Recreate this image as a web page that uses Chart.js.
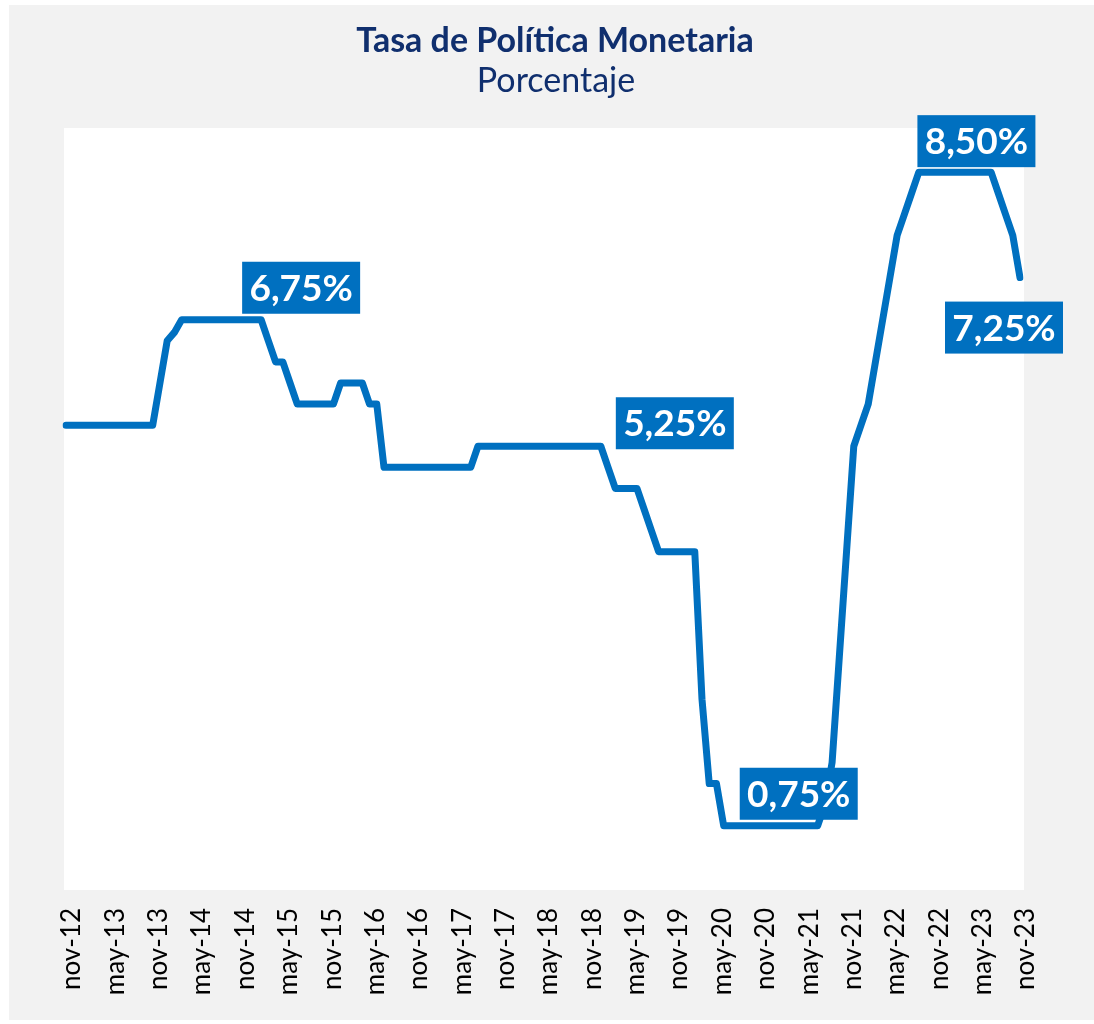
<!DOCTYPE html>
<html>
<head>
<meta charset="utf-8">
<script src="https://cdn.jsdelivr.net/npm/chart.js@4"></script>
<style>
  body { margin: 0; background: #fff; }
  #box { position: absolute; left: 9px; top: 5px; width: 1085px; height: 1015px; background: #f2f2f2; }
  canvas { display: block; }
</style>
</head>
<body>
<div id="box"><canvas id="tpmChart" width="1085" height="1015"></canvas></div>
<script>
// tasa de politica monetaria, mensual nov-12 .. nov-23
const monthNames = ['ene','feb','mar','abr','may','jun','jul','ago','sep','oct','nov','dic'];

const rate2012 = [5.5, 5.5];
const rate2013 = [5.5, 5.5, 5.5, 5.5, 5.5, 5.5, 5.5, 5.5, 5.5, 5.5, 5.5, 6.0];
const rate2014 = [6.5, 6.6, 6.75, 6.75, 6.75, 6.75, 6.75, 6.75, 6.75, 6.75, 6.75, 6.75];
const rate2015 = [6.75, 6.75, 6.5, 6.25, 6.25, 6.0, 5.75, 5.75, 5.75, 5.75, 5.75, 5.75];
const rate2016 = [6.0, 6.0, 6.0, 6.0, 5.75, 5.75, 5.0, 5.0, 5.0, 5.0, 5.0, 5.0];
const rate2017 = [5.0, 5.0, 5.0, 5.0, 5.0, 5.0, 5.0, 5.25, 5.25, 5.25, 5.25, 5.25];
const rate2018 = [5.25, 5.25, 5.25, 5.25, 5.25, 5.25, 5.25, 5.25, 5.25, 5.25, 5.25, 5.25];
const rate2019 = [5.25, 5.0, 4.75, 4.75, 4.75, 4.75, 4.5, 4.25, 4.0, 4.0, 4.0, 4.0];
const rate2020 = [4.0, 4.0, 2.25, 1.25, 1.25, 0.75, 0.75, 0.75, 0.75, 0.75, 0.75, 0.75];
const rate2021 = [0.75, 0.75, 0.75, 0.75, 0.75, 0.75, 0.75, 1.0, 1.5, 2.75, 4.0, 5.25];
const rate2022 = [5.5, 5.75, 6.25, 6.75, 7.25, 7.75, 8.0, 8.25, 8.5, 8.5, 8.5, 8.5];
const rate2023 = [8.5, 8.5, 8.5, 8.5, 8.5, 8.5, 8.5, 8.25, 8.0, 7.75, 7.25];

const calloutIndex = [27, 74, 100, 125, 132];
const calloutText = ['6,75%', '5,25%', '0,75%', '8,50%', '7,25%'];

const rates = [].concat(rate2012, rate2013, rate2014, rate2015, rate2016, rate2017,
  rate2018, rate2019, rate2020, rate2021, rate2022, rate2023);

const labels = [];
for (let i = 0; i < rates.length; i++) {
  const m = (10 + i) % 12;
  const y = 12 + Math.floor((10 + i) / 12);
  labels.push(monthNames[m] + '-' + y);
}

const BLUE = '#0070c0';
const NAVY = '#102f6e';
const FONT = 'Lato, "Open Sans", sans-serif';

// white plot background + titles
const frame = {
  id: 'frame',
  beforeDraw(chart) {
    const a = chart.chartArea;
    const ctx = chart.ctx;
    ctx.save();
    ctx.fillStyle = '#ffffff';
    ctx.fillRect(a.left - 2, a.top - 2, a.right - a.left + 6, a.bottom - a.top + 3);
    ctx.fillStyle = NAVY;
    ctx.textAlign = 'center';
    ctx.textBaseline = 'alphabetic';
    ctx.font = 'bold 34px ' + FONT;
    ctx.fillText('Tasa de Política Monetaria', 546, 47);
    ctx.font = '34px ' + FONT;
    ctx.fillText('Porcentaje', 547, 87);
    ctx.restore();
  }
};

// value boxes
const callouts = {
  id: 'callouts',
  afterDatasetsDraw(chart) {
    const offsets = [[40, -32], [74, -23], [10, -32], [7, -31], [-16, 50]];
    const meta = chart.getDatasetMeta(0);
    const ctx = chart.ctx;
    ctx.save();
    ctx.font = 'bold 37px ' + FONT;
    ctx.textAlign = 'center';
    ctx.textBaseline = 'middle';
    calloutIndex.forEach((idx, k) => {
      const pt = meta.data[idx];
      const cx = pt.x + offsets[k][0];
      const cy = pt.y + offsets[k][1];
      ctx.fillStyle = BLUE;
      ctx.fillRect(cx - 59, cy - 26, 118, 52);
      ctx.fillStyle = '#ffffff';
      ctx.fillText(calloutText[k], cx, cy + 1);
    });
    ctx.restore();
  }
};

const ctx = document.getElementById('tpmChart').getContext('2d');
new Chart(ctx, {
  type: 'line',
  data: {
    labels: labels,
    datasets: [{
      label: 'TPM',
      data: rates,
      borderColor: BLUE,
      borderWidth: 7,
      borderJoinStyle: 'round',
      borderCapStyle: 'round',
      pointRadius: 0,
      tension: 0,
      fill: false
    }]
  },
  options: {
    responsive: false,
    animation: false,
    layout: { padding: { left: 57, right: 74, top: 125, bottom: 0 } },
    plugins: {
      legend: { display: false },
      tooltip: { enabled: false },
      title: { display: false }
    },
    scales: {
      x: {
        offset: false,
        grid: { display: false, drawTicks: false },
        border: { display: false },
        afterFit(scale) { scale.height = 131; },
        ticks: {
          autoSkip: false,
          minRotation: 90,
          maxRotation: 90,
          padding: 19,
          labelOffset: 6,
          color: '#000',
          font: { family: FONT, size: 26 },
          callback: function (val, index) {
            return index % 6 === 0 ? this.getLabelForValue(val) : null;
          }
        }
      },
      y: {
        display: false,
        min: 0,
        max: 9
      }
    }
  },
  plugins: [frame, callouts]
});
</script>
</body>
</html>
